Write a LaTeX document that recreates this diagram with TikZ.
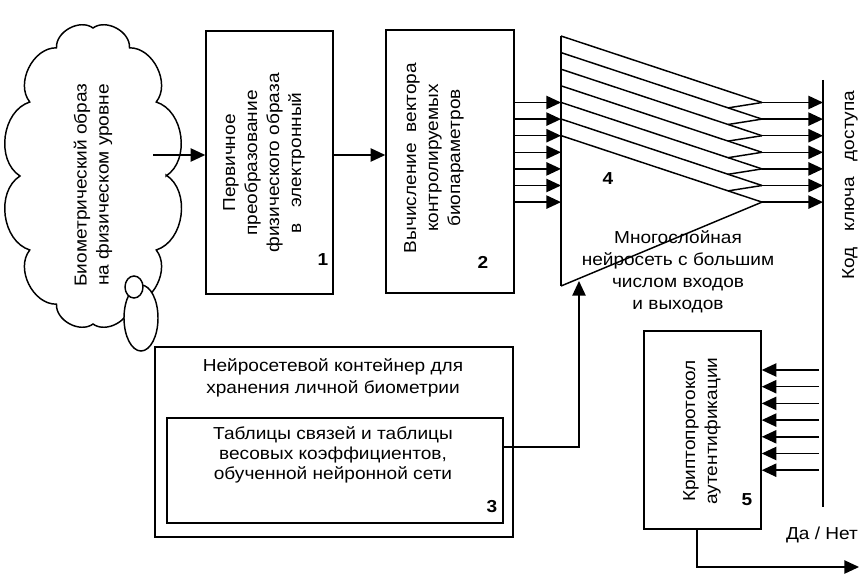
\documentclass[tikz,border=0pt]{standalone}
\usepackage{fontspec}
\setmainfont{Liberation Sans}[FakeStretch=1.1]
\usetikzlibrary{arrows.meta,calc}

\tikzset{every picture/.style={line width=1.1pt}}
\tikzset{
  blk/.style={draw, rectangle, inner sep=0pt},
  txt/.style={align=center, inner sep=0pt, font=\fontsize{13}{16.5}\selectfont},
  num/.style={inner sep=0pt, font=\fontsize{13}{14}\selectfont\bfseries},
  tri/.style={-{Triangle[length=11pt,width=10pt]}},
}

\begin{document}
\begin{tikzpicture}[x=0.75pt,y=0.75pt,yscale=-1,xscale=1]
\path[use as bounding box] (0,0) rectangle (862,574);

%Cloud
\draw (166,175) \foreach \i in {1,...,12} { to[bend right=65] ({93+73*cos(30*\i)},{176+148*sin(30*\i)}) } -- cycle;
\draw[fill=white] (141,318) ellipse (17 and 33);
\draw[fill=white] (134,287) ellipse (9 and 11);
\node[txt, rotate=90] (cloud) at (93,185) {Биометрический образ\\на физическом уровне};

%Blocks 1, 2
\node[blk, minimum width=95.25pt, minimum height=197.25pt] (b1) at (269.5,162.5) {};
\node[blk, minimum width=96pt, minimum height=197.25pt] (b2) at (450,161.5) {};
\node[txt, rotate=90] (b1txt) at (264,163) {Первичное\\преобразование\\физического образа\\в\ \ \ электронный};
\node[txt, rotate=90] (b2txt) at (434,158) {Вычисление\ \ вектора\\контролируемых\\биопараметров};
\node[num] (n1) at (323,260) {1};
\node[num] (n2) at (483,262) {2};

\coordinate (cin) at (153,155);
\draw[tri] (cin) -- (cin -| b1.west);
\draw[tri] (b1.east |- cin) -- (b2.west |- cin);

%Network 4
\coordinate (ntop) at (561,36);
\coordinate (nbot) at (561,286);
\coordinate (bar) at (823,80);
\coordinate (barend) at (823,507);
\draw (ntop) -- (nbot);
\foreach \k in {0,...,6} {
  \coordinate (in\k) at (561,{36+16.6*\k});
  \coordinate (t\k) at (762,{102.5+16.6*\k});
  \draw (in\k) -- (t\k);
  \draw[tri] (b2.east |- t\k) -- (ntop |- t\k);
  \draw[tri] (t\k) -- (bar |- t\k);
}
\foreach \k in {0,...,5} {
  \draw (t\k) -- (728,{91.3+16.6*(\k+1)});
}
\draw (nbot) -- (t6);
\node[num] (n4) at (608,179) {4};
\node[txt] (nettxt) at (678,272) {Многослойная\\нейросеть с большим\\числом входов\\и выходов};

%Access key bar
\draw[line width=2pt] (bar) -- (barend);
\node[txt, rotate=90] (key) at (850,185) {Код\ \ \ ключа\ \ \ доступа};

%Container 3
\node[blk, minimum width=268.5pt, minimum height=142.5pt] (b3) at (334,442) {};
\node[blk, minimum width=252pt, minimum height=78.75pt] (b3in) at (335,470.5) {};
\node[txt] (b3txt) at (333,378) {Нейросетевой контейнер для\\хранения личной биометрии};
\node[txt, font=\fontsize{13}{15}\selectfont] (b3intxt) at (333,455) {Таблицы связей и таблицы\\весовых коэффициентов,\\обученной нейронной сети};
\node[num] (n3) at (492,507) {3};
\coordinate (kin) at (579,447);
\draw[tri] (kin -| b3in.east) -- (kin) -- (579,281);

%Block 5
\node[blk, minimum width=87.75pt, minimum height=148.5pt] (b5) at (702.5,430) {};
\node[txt, rotate=90] (b5txt) at (702,431) {Криптопротокол\\аутентификации};
\node[num] (n5) at (747,500) {5};
\foreach \k in {0,...,6} {
  \coordinate (r\k) at (819,{370+16.7*\k});
  \draw[tri] (r\k) -- (r\k -| b5.east);
}
\coordinate (out) at (697,567);
\coordinate (outend) at (859,567);
\draw[tri] (b5.south -| out) -- (out) -- (outend);
\node[txt] (yn) at (822,535) {Да / Нет};

\end{tikzpicture}
\end{document}
